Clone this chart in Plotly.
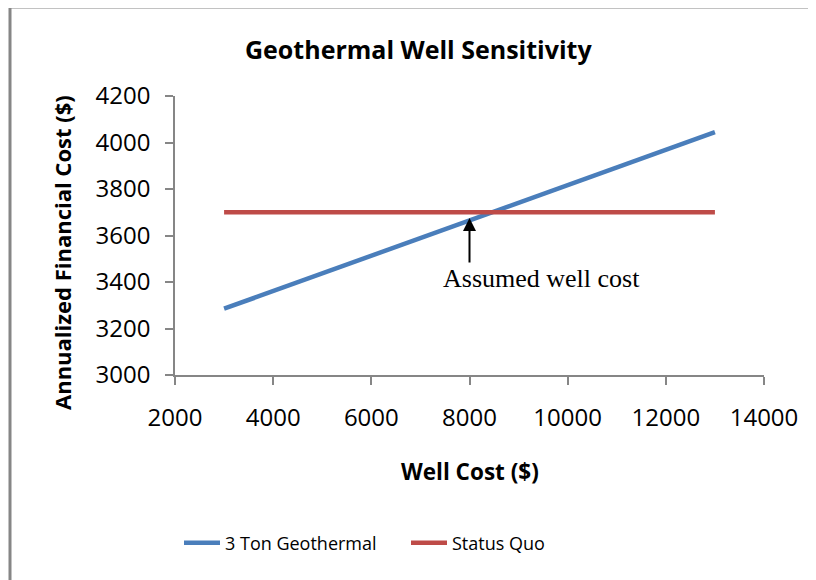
import plotly.graph_objects as go

well_cost = [3000, 4000, 5000, 6000, 7000, 8000, 9000, 10000, 11000, 12000, 13000]
geothermal_3ton = [3285, 3361, 3437, 3513, 3589, 3665, 3741, 3817, 3893, 3969, 4045]
status_quo = [3700, 3700, 3700, 3700, 3700, 3700, 3700, 3700, 3700, 3700, 3700]
x_ticks = [2000, 4000, 6000, 8000, 10000, 12000, 14000]
x_tick_labels = ["2000", "4000", "6000", "8000", "10000", "12000", "14000"]
y_ticks = [3000, 3200, 3400, 3600, 3800, 4000, 4200]
y_tick_labels = ["3000", "3200", "3400", "3600", "3800", "4000", "4200"]

FONT = "Open Sans"
OFF = 8  # page body offset
W, H = 816 - OFF, 580 - OFF
L, T = 175 - OFF, 96 - OFF
PW, PH = 589, 279
R, B = W - L - PW, H - T - PH

def px(xpix):
    return (xpix - 175) / PW

def py(ypix):
    return (375 - ypix) / PH

fig = go.Figure()
fig.add_trace(go.Scatter(x=well_cost, y=geothermal_3ton, mode="lines", name="3 Ton Geothermal",
                         line=dict(color="#4A7EBB", width=4.5), legend="legend"))
fig.add_trace(go.Scatter(x=well_cost, y=status_quo, mode="lines", name="Status Quo",
                         line=dict(color="#BE4B48", width=4.5), legend="legend2"))

axis_common = dict(showgrid=False, zeroline=False, showline=True, linecolor="#868686", linewidth=1.5,
                   ticks="outside", ticklen=8, tickcolor="#868686", tickwidth=1.5,
                   tickfont=dict(family=FONT, size=24, color="#000000"))

legend_common = dict(orientation="h", yanchor="middle", xanchor="left", itemwidth=36,
                     font=dict(family=FONT, size=18, color="#000000"), bgcolor="rgba(0,0,0,0)")

fig.update_layout(
    width=W, height=H,
    margin=dict(l=L, r=R, t=T, b=B, autoexpand=False),
    paper_bgcolor="white", plot_bgcolor="white",
    showlegend=True,
    legend=dict(x=px(179), y=py(543), **legend_common),
    legend2=dict(x=px(406), y=py(543), **legend_common),
    xaxis=dict(range=[2000, 14000], tickvals=x_ticks, ticktext=x_tick_labels,
               ticklabelstandoff=12, **axis_common),
    yaxis=dict(range=[3000, 4200], tickvals=y_ticks, ticktext=y_tick_labels,
               ticklabelstandoff=10, **axis_common),
)

# Title and axis titles
fig.add_annotation(text="<b>Geothermal Well Sensitivity</b>", xref="paper", yref="paper",
                   x=px(418), y=py(49), xanchor="center", yanchor="middle", showarrow=False,
                   font=dict(family=FONT, size=25, color="#000000"))
fig.add_annotation(text="<b>Annualized Financial Cost ($)</b>", xref="paper", yref="paper",
                   x=px(62), y=py(253), xanchor="center", yanchor="middle", textangle=-90,
                   showarrow=False, font=dict(family=FONT, size=22, color="#000000"))
fig.add_annotation(text="<b>Well Cost ($)</b>", xref="paper", yref="paper",
                   x=px(470), y=py(471), xanchor="center", yanchor="middle", showarrow=False,
                   font=dict(family=FONT, size=22.5, color="#000000"))

# Arrow and label
fig.add_annotation(x=8000, y=3675, xref="x", yref="y", text="", showarrow=True,
                   arrowhead=2, arrowsize=1.3, arrowwidth=2, arrowcolor="#000000",
                   ax=0, ay=46, axref="pixel", ayref="pixel")
fig.add_annotation(text="Assumed well cost", x=9464, y=3416, xref="x", yref="y",
                   xanchor="center", yanchor="middle", showarrow=False,
                   font=dict(family="Liberation Serif", size=26, color="#000000"))

# Outer chart frame
fig.add_shape(type="rect", xref="paper", yref="paper",
              x0=px(10), x1=px(830), y0=py(590), y1=py(7),
              line=dict(color="#868686", width=3), fillcolor="rgba(0,0,0,0)", layer="below")

fig.write_html("out.html")
